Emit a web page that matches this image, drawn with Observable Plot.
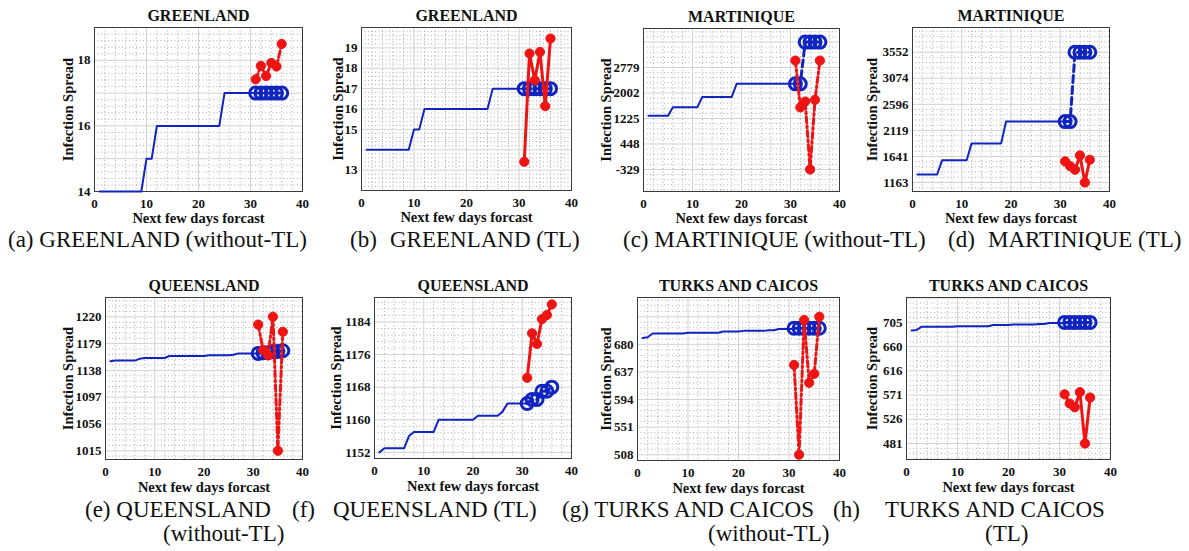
<!DOCTYPE html>
<html><head><meta charset="utf-8">
<script src="https://cdn.jsdelivr.net/npm/d3@7"></script>
<script src="https://cdn.jsdelivr.net/npm/@observablehq/plot@0.6"></script>
<style>
html,body{margin:0;padding:0;background:#fff;}
#root{position:relative;width:1189px;height:551px;overflow:hidden;background:#fff;}
.panel{position:absolute;}
.cap{position:absolute;font-family:"Liberation Serif","Times New Roman",serif;font-size:23px;line-height:23px;white-space:pre;color:#111;}
</style></head><body><div id="root"></div>
<script>
// ---------- data ----------
const days = [1,2,3,4,5,6,7,8,9,10,11,12,13,14,15,16,17,18,19,20,21,22,23,24,25,26,27,28,29,30,31];
const forecastDays = [31,32,33,34,35,36];
const xTicks = [0,10,20,30,40];

const greenlandHistory = [14,14,14,14,14,14,14,14,14,15,15,16,16,16,16,16,16,16,16,16,16,16,16,16,17,17,17,17,17,17,17];
const greenlandActual = [17,17,17,17,17,17];
const greenlandPredWithoutTL = [17.42,17.83,17.52,17.92,17.81,18.5];
const greenlandPredTL = [13.41,18.72,17.41,18.8,16.14,19.46];
const greenlandTicksWithoutTL = [14,16,18];
const greenlandTicksTL = [13,15,16,17,18,19];

const martiniqueHistory = [1310,1310,1310,1310,1310,1570,1570,1570,1570,1570,1570,1880,1880,1880,1880,1880,1880,1880,2280,2280,2280,2280,2280,2280,2280,2280,2280,2280,2280,2280,2280];
const martiniqueActual = [2280,2280,3552,3552,3552,3552];
const martiniquePredWithoutTL = [2990,1563,1742,-329,1793,2990];
const martiniquePredTL = [1549,1463,1398,1659,1163,1580];
const martiniqueTicksWithoutTL = [-329,448,1225,2002,2779];
const martiniqueTicksTL = [1163,1641,2119,2596,3074,3552];

const queenslandHistory = [1152,1153,1153,1153,1153,1153,1156,1157,1157,1157,1157,1157,1160,1160,1160,1160,1160,1160,1160,1160,1161,1161,1161,1161,1161,1162,1164,1164,1164,1164,1164];
const queenslandActual = [1164,1165,1165,1167,1167,1168];
const queenslandPredWithoutTL = [1208,1169,1161,1220,1015,1197];
const queenslandPredTL = [1170.3,1181.2,1178.6,1184.7,1185.7,1188.3];
const queenslandTicksWithoutTL = [1015,1056,1097,1138,1179,1220];
const queenslandTicksTL = [1152,1160,1168,1176,1184];

const turksHistory = [690,691,697,697,697,697,697,697,697,698,698,698,698,698,698,698,700,700,700,700,701,701,701,701,701,702,702,704,704,704,704];
const turksActual = [705,705,705,705,705,705];
const turksPredWithoutTL = [648,508,718,620,634,723];
const turksPredTL = [572,555,548,576,481,566];
const turksTicksWithoutTL = [508,551,594,637,680];
const turksTicksTL = [481,526,571,616,660,705];

const BLUE = "#1024c0", RED = "#ee1414";
const FONT = '"Liberation Serif","Times New Roman",serif';

// ---------- layout ----------
const panels = [
  {title:"GREENLAND", history:greenlandHistory, actual:greenlandActual, pred:greenlandPredWithoutTL, ticks:greenlandTicksWithoutTL, step:1, tl:false, frame:[94,302,27,191], yDomain:[14,19], yLab:32, xLab:31},
  {title:"GREENLAND", history:greenlandHistory, actual:greenlandActual, pred:greenlandPredTL, ticks:greenlandTicksTL, step:1, tl:true, frame:[361,571,27,190], yDomain:[12,20], yLab:29, xLab:31},
  {title:"MARTINIQUE", history:martiniqueHistory, actual:martiniqueActual, pred:martiniquePredWithoutTL, ticks:martiniqueTicksWithoutTL, tl:false, frame:[643,839,28,191], yDomain:[-1000,3967], yLab:43, xLab:31},
  {title:"MARTINIQUE", history:martiniqueHistory, actual:martiniqueActual, pred:martiniquePredTL, ticks:martiniqueTicksTL, tl:true, frame:[912,1109,27,191], yDomain:[998,4005], yLab:46, xLab:31},
  {title:"QUEENSLAND", history:queenslandHistory, actual:queenslandActual, pred:queenslandPredWithoutTL, ticks:queenslandTicksWithoutTL, tl:false, frame:[105,302,297,459], yDomain:[1001.7,1249.5], yLab:43, xLab:32},
  {title:"QUEENSLAND", history:queenslandHistory, actual:queenslandActual, pred:queenslandPredTL, ticks:queenslandTicksTL, tl:true, frame:[374,571,297,458], yDomain:[1150.5,1190], yLab:44, xLab:32},
  {title:"TURKS AND CAICOS", history:turksHistory, actual:turksActual, pred:turksPredWithoutTL, ticks:turksTicksWithoutTL, tl:false, frame:[637,839,297,460], yDomain:[499,753], yLab:37, xLab:32},
  {title:"TURKS AND CAICOS", history:turksHistory, actual:turksActual, pred:turksPredTL, ticks:turksTicksTL, tl:true, frame:[906,1110,297,459], yDomain:[451.5,751], yLab:40, xLab:32}
];

const captions = [
  {t:"(a) GREENLAND (without-TL)", x:8, b:246.9},
  {t:"(b)", x:350, b:246.9}, {t:"GREENLAND (TL)", x:390, b:246.9},
  {t:"(c) MARTINIQUE (without-TL)", x:623, b:246.9},
  {t:"(d)", x:948, b:246.9}, {t:"MARTINIQUE (TL)", x:988, b:246.9},
  {t:"(e) QUEENSLAND", x:85, b:517}, {t:"(without-TL)", x:163, b:541},
  {t:"(f)", x:292, b:517}, {t:"QUEENSLAND (TL)", x:333, b:517},
  {t:"(g) TURKS AND CAICOS", x:562, b:517}, {t:"(without-TL)", x:708, b:541},
  {t:"(h)", x:833, b:517}, {t:"TURKS AND CAICOS", x:885, b:517}, {t:"(TL)", x:985, b:541}
];

const root = document.getElementById("root");

function gridVals(domain, base, step, sub) {
  const s = step / sub, out = {major: [], minor: []};
  const k0 = Math.ceil((domain[0] - base) / s - 1e-9), k1 = Math.floor((domain[1] - base) / s + 1e-9);
  for (let k = k0; k <= k1; k++) {
    const v = base + k * s;
    if (((k % sub) + sub) % sub === 0) out.major.push(v); else out.minor.push(v);
  }
  return out;
}

for (const p of panels) {
  const ML = 60, MR = 14, MT = 32, MB = 42;
  const fw = p.frame[1] - p.frame[0], fh = p.frame[3] - p.frame[2];
  const hist = days.map((d, i) => ({x: d, y: p.history[i]}));
  const act = forecastDays.map((d, i) => ({x: d, y: p.actual[i]}));
  const pred = forecastDays.map((d, i) => ({x: d, y: p.pred[i]}));
  const step = p.step ?? (p.ticks[p.ticks.length - 1] - p.ticks[0]) / (p.ticks.length - 1);
  const gy = gridVals(p.yDomain, p.ticks[0], step, 5);
  const gx = gridVals([0, 40], 0, 10, 5);
  const chart = Plot.plot({
    width: fw + ML + MR, height: fh + MT + MB,
    marginLeft: ML, marginRight: MR, marginTop: MT, marginBottom: MB,
    style: {fontFamily: FONT, background: "transparent", color: "#111", overflow: "visible"},
    x: {domain: [0, 40]},
    y: {domain: p.yDomain},
    marks: [
      Plot.gridX(gx.minor, {stroke: "#9a9a9a", strokeOpacity: 0.8, strokeDasharray: "1,2.5"}),
      Plot.gridY(gy.minor, {stroke: "#9a9a9a", strokeOpacity: 0.8, strokeDasharray: "1,2.5"}),
      Plot.gridX(gx.major, {stroke: "#d2d2d2", strokeOpacity: 1}),
      Plot.gridY(gy.major, {stroke: "#d2d2d2", strokeOpacity: 1}),
      Plot.frame({stroke: "#3a3a3a", strokeWidth: 1}),
      Plot.axisX(xTicks, {tickSize: 0, tickPadding: 7, label: null, fontSize: 13, fontWeight: "bold", tickFormat: d => String(d)}),
      Plot.axisY(p.ticks, {tickSize: 0, tickPadding: 4, label: null, fontSize: 13, fontWeight: "bold", tickFormat: d => String(d)}),
      Plot.text([p.title], {text: d => d, frameAnchor: "top", dy: -6.3, lineAnchor: "bottom", fontSize: 16, fontWeight: "bold"}),
      Plot.text(["Next few days forcast"], {text: d => d, frameAnchor: "bottom", dy: p.xLab, lineAnchor: "bottom", fontSize: 14.5, fontWeight: "bold"}),
      Plot.text(["Infection Spread"], {text: d => d, frameAnchor: "left", textAnchor: "middle", dx: -p.yLab, rotate: -90, lineAnchor: "top", fontSize: 14.5, fontWeight: "bold"}),
      Plot.line(hist, {x: "x", y: "y", stroke: BLUE, strokeWidth: 2}),
      Plot.line(act, {x: "x", y: "y", stroke: BLUE, strokeWidth: 3, strokeDasharray: "7,4"}),
      Plot.dot(act, {x: "x", y: "y", r: 6, stroke: BLUE, strokeWidth: 3, fill: "none"}),
      Plot.line(pred, {x: "x", y: "y", stroke: RED, strokeWidth: 3, strokeDasharray: p.tl ? null : "6,3,2,3"}),
      Plot.dot(pred, {x: "x", y: "y", r: 4.6, fill: RED, stroke: RED, strokeWidth: 1})
    ]
  });
  chart.classList.add("panel");
  chart.style.left = (p.frame[0] - ML) + "px";
  chart.style.top = (p.frame[2] - MT) + "px";
  root.appendChild(chart);
}

for (const c of captions) {
  const d = document.createElement("div");
  d.className = "cap";
  d.textContent = c.t;
  d.style.left = c.x + "px";
  d.style.top = (c.b - 19.3) + "px";
  root.appendChild(d);
}
</script></body></html>
